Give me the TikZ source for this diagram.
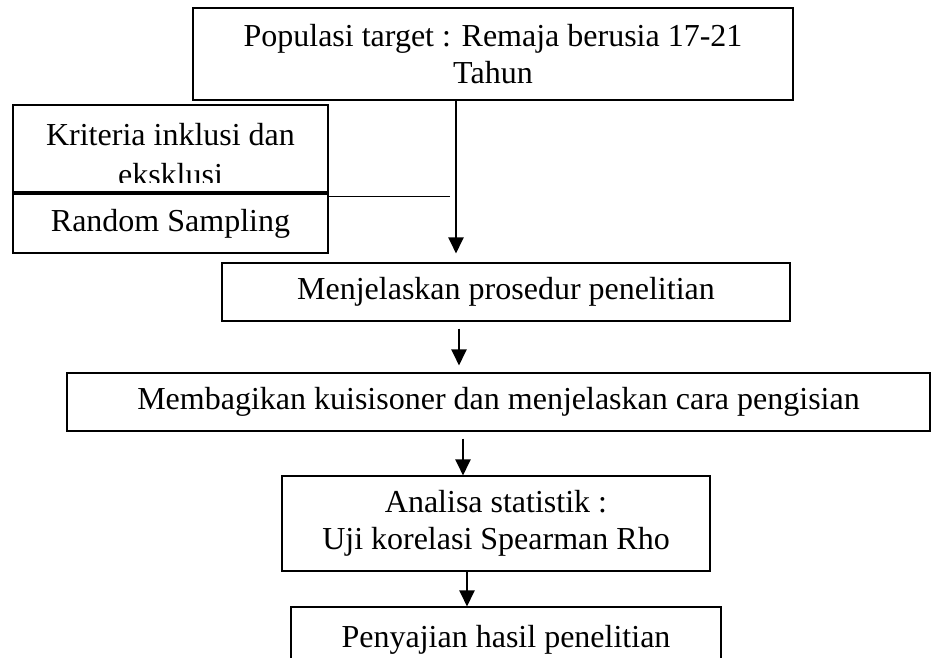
\documentclass[tikz,border=0pt]{standalone}
\usepackage{fontspec}
\setmainfont{Liberation Serif}
\usetikzlibrary{arrows.meta}

\begin{document}
\begin{tikzpicture}[
  x=1pt,
  y=-1pt,
  >={Triangle[length=16pt,width=15pt]},
  stage/.style={
    draw,
    line width=1.1pt,
    inner sep=0pt,
    align=center,
    font=\fontsize{32}{37}\selectfont
  },
  flow/.style={->,line width=2.2pt}
]
  \useasboundingbox (0,0) rectangle (931,657);

  \node[stage,minimum width=600pt,minimum height=92pt] (population) at (493,54)
    {Populasi target : Remaja berusia 17-21\\Tahun};
  \node[stage,minimum width=315pt,minimum height=87pt] (criteria) at (170.5,148.5) {};
  \node[stage,minimum width=315pt,minimum height=59pt] (sampling) at (170.5,223.5)
    {Random Sampling};
  \node[stage,minimum width=568pt,minimum height=58pt] (procedure) at (506,292)
    {Menjelaskan prosedur penelitian};
  \node[stage,minimum width=863pt,minimum height=58pt] (questionnaire) at (498.5,402)
    {Membagikan kuisisoner dan menjelaskan cara pengisian};
  \node[stage,minimum width=428pt,minimum height=95pt] (analysis) at (496,523.5)
    {Analisa statistik :\\Uji korelasi Spearman Rho};
  \node[stage,minimum width=430pt,minimum height=66pt] (results) at (506,640)
    {Penyajian hasil penelitian};

  % text of the criteria box is cut off at its inner margin
  \begin{scope}
    \clip (criteria.north west) rectangle ([yshift=9.6pt]criteria.south east);
    \node[stage,draw=none,anchor=north] (criterialabel) at (170.5,123)
      {Kriteria inklusi dan\\[2.5pt]eksklusi};
  \end{scope}

  \coordinate (drop1) at (456,0);
  \coordinate (drop2) at (459,0);
  \coordinate (drop3) at (463,0);
  \coordinate (drop4) at (467,0);
  \coordinate (linkend) at (450,196);

  \draw[line width=0.8pt] (criteria.south east |- linkend) -- (linkend);
  \draw[flow,shorten >=9pt] (population.south -| drop1) -- (drop1 |- procedure.north);
  \draw[flow,shorten <=7pt,shorten >=7pt] (procedure.south -| drop2) -- (drop2 |- questionnaire.north);
  \draw[flow,shorten <=7pt] (questionnaire.south -| drop3) -- (drop3 |- analysis.north);
  \draw[flow] (analysis.south -| drop4) -- (drop4 |- results.north);
\end{tikzpicture}
\end{document}
